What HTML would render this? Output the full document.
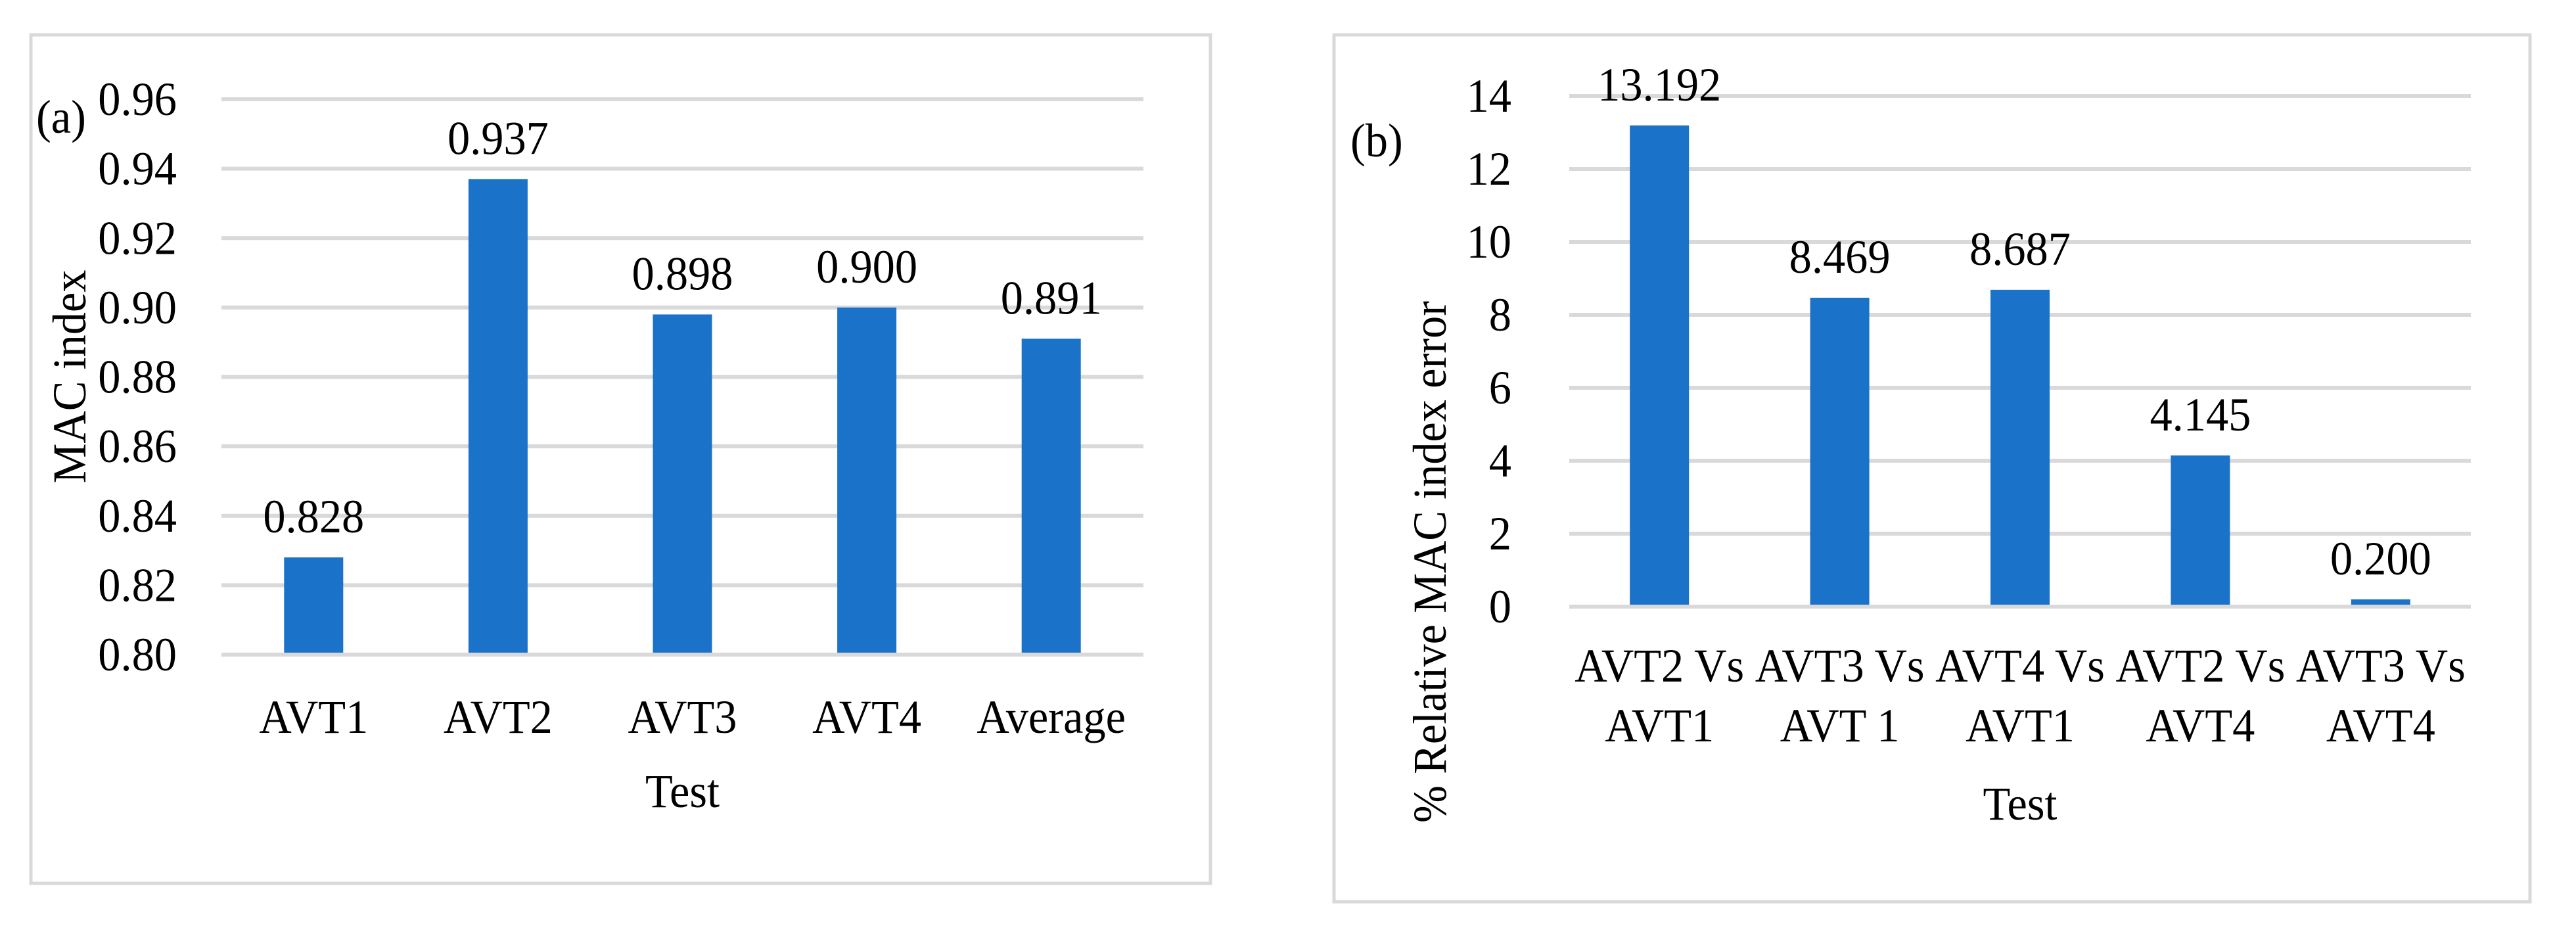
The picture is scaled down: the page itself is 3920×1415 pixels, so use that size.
<!DOCTYPE html>
<html><head><meta charset="utf-8"><style>
html,body{margin:0;padding:0;background:#fff}
svg{display:block}
text{font-family:"Liberation Serif",serif;fill:#000}
</style></head><body>
<svg id="chart" width="3920" height="1415" viewBox="0 0 3920 1415" xmlns="http://www.w3.org/2000/svg"></svg>
<script>
const catsA = ["AVT1","AVT2","AVT3","AVT4","Average"];
const valsA = [0.828,0.937,0.898,0.900,0.891];
const labelsA = ["0.828","0.937","0.898","0.900","0.891"];
const ticksA = [0.80,0.82,0.84,0.86,0.88,0.90,0.92,0.94,0.96];
const tickLabelsA = ["0.80","0.82","0.84","0.86","0.88","0.90","0.92","0.94","0.96"];
const catsB = [["AVT2 Vs","AVT1"],["AVT3 Vs","AVT 1"],["AVT4 Vs","AVT1"],["AVT2 Vs","AVT4"],["AVT3 Vs","AVT4"]];
const valsB = [13.192,8.469,8.687,4.145,0.200];
const labelsB = ["13.192","8.469","8.687","4.145","0.200"];
const ticksB = [0,2,4,6,8,10,12,14];
const tickLabelsB = ["0","2","4","6","8","10","12","14"];

const NS="http://www.w3.org/2000/svg";
const svg=document.getElementById('chart');
const SX=0.95, FS=72;
function el(tag,attrs,parent){const e=document.createElementNS(NS,tag);for(const k in attrs)e.setAttribute(k,attrs[k]);(parent||svg).appendChild(e);return e;}
function txt(parent,x,y,s,anchor,rot,name){
  const g=el('g',{transform:`translate(${x},${y}) rotate(${rot||0}) scale(${SX},1)`},parent);
  
  
  const t=el('text',{x:0,y:0,'font-size':FS,'text-anchor':anchor||'middle'},g);
  t.textContent=s;
  return g;
}

function panel(cfg){
  const p=el('g',{});
  
  
  const box=el('rect',{x:cfg.bx,y:cfg.by,width:cfg.bw,height:cfg.bh,fill:'none',stroke:'#d9d9d9','stroke-width':5},p);
  
  
  const y=v=>cfg.y0+(v-cfg.min)/(cfg.max-cfg.min)*(cfg.y1-cfg.y0);
  const band=(cfg.x1-cfg.x0)/cfg.cats.length;
  const xc=i=>cfg.x0+band*(i+0.5);
  cfg.ticks.forEach((t,i)=>{
    const l=el('line',{x1:cfg.x0,x2:cfg.x1,y1:y(t),y2:y(t),stroke:'#d9d9d9','stroke-width':6},p);
    
    
    txt(p,cfg.tickX,y(t)+24,cfg.tickLabels[i],'end',0,'y-tick-label');
  });
  cfg.vals.forEach((v,i)=>{
    const r=el('rect',{x:xc(i)-45,y:y(v),width:90,height:y(cfg.min)-y(v)-3,fill:'#1a73c8'},p);
    
    
    txt(p,xc(i),y(v)-38,cfg.labels[i],'middle',0,'value-label');
    const c=cfg.cats[i];
    if(Array.isArray(c)){c.forEach((s,j)=>txt(p,xc(i),cfg.catY+j*cfg.catDY,s,'middle',0,'x-tick-label'));}
    else txt(p,xc(i),cfg.catY,c,'middle',0,'x-tick-label');
  });
  txt(p,(cfg.x0+cfg.x1)/2,cfg.titleY,'Test','middle',0,'x-axis-title');
  txt(p,cfg.yTitleX,cfg.yTitleY,cfg.yTitle,'middle',-90,'y-axis-title');
  txt(p,cfg.tagX,cfg.tagY,cfg.tag,'start',0,'panel-tag');
}

panel({name:'chart-a',bx:47,by:53,bw:1795,bh:1291,x0:337,x1:1740,y0:996,y1:151,min:0.80,max:0.96,
  cats:catsA,vals:valsA,labels:labelsA,ticks:ticksA,tickLabels:tickLabelsA,tickX:269,
  catY:1115,catDY:0,titleY:1228,yTitle:'MAC index',yTitleX:130,yTitleY:573,tag:'(a)',tagX:55,tagY:202});
panel({name:'chart-b',bx:2030,by:53,bw:1820,bh:1319,x0:2388,x1:3760,y0:923,y1:146,min:0,max:14,
  cats:catsB,vals:valsB,labels:labelsB,ticks:ticksB,tickLabels:tickLabelsB,tickX:2300,
  catY:1037,catDY:91,titleY:1247,yTitle:'% Relative MAC index error',yTitleX:2200,yTitleY:855,tag:'(b)',tagX:2055,tagY:238});
</script>
</body></html>
